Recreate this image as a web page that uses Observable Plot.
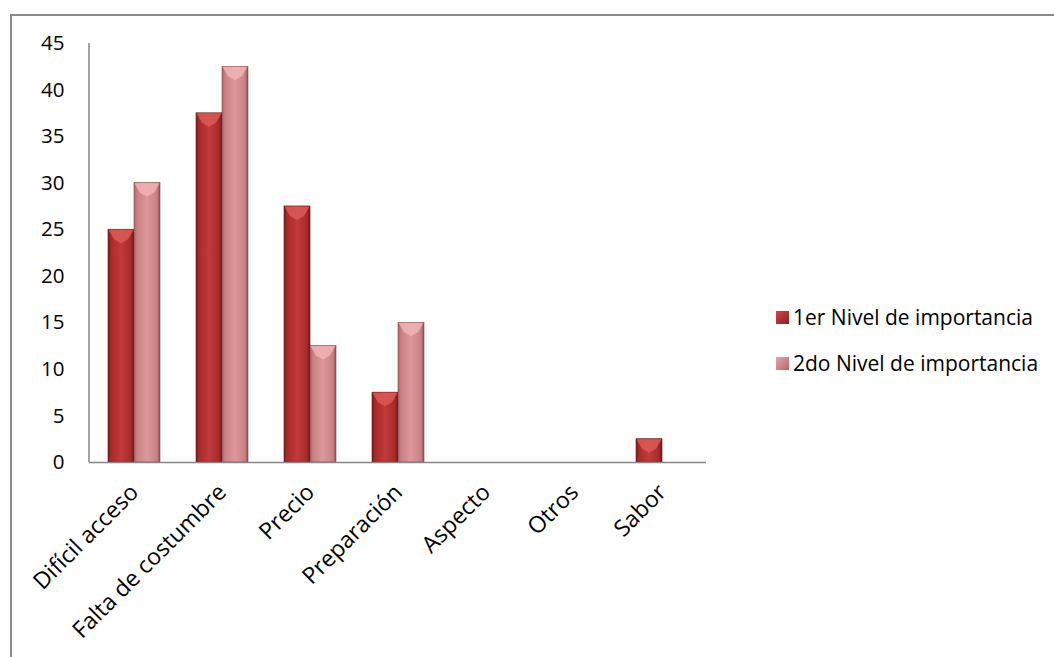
<!DOCTYPE html>
<html>
<head>
<meta charset="utf-8">
<script src="https://cdn.jsdelivr.net/npm/d3@7"></script>
<script src="https://cdn.jsdelivr.net/npm/@observablehq/plot@0.6"></script>
<style>
  html, body { margin: 0; padding: 0; background: #fff; }
  #wrap { position: relative; width: 1054px; height: 657px; overflow: hidden; font-family: "Open Sans", Lato, sans-serif; }
  #frame { position: absolute; left: 10px; top: 14px; width: 1100px; height: 700px;
           border-left: 2px solid #8c8c8c; border-top: 2px solid #8c8c8c; }
  #chart { position: absolute; left: 0; top: 0; }
  #legend { position: absolute; left: 776px; top: 303px; font-size: 21px; color: #000; }
  .item { display: flex; align-items: center; height: 28px; margin-bottom: 18px; }
  .sw { width: 13px; height: 13px; margin-right: 4px; }
</style>
</head>
<body>
<div id="wrap">
  <div id="frame"></div>
  <div id="chart"></div>
  <div id="legend"></div>
</div>
<script>
// Reasons for not consuming the product, by level of importance
const categories = ["Difícil acceso", "Falta de costumbre", "Precio", "Preparación", "Aspecto", "Otros", "Sabor"];
const series = ["1er Nivel de importancia", "2do Nivel de importancia"];
const primero = [25, 37.5, 27.5, 7.5, 0, 0, 2.5];
const segundo = [30, 42.5, 12.5, 15, 0, 0, 0];
const yTicks = [0, 5, 10, 15, 20, 25, 30, 35, 40, 45];

const rows1 = categories.map((c, i) => ({cat: c, value: primero[i]}));
const rows2 = categories.map((c, i) => ({cat: c, value: segundo[i]}));

// gradient + shadow definitions used by the bars
const defs = () => {
  const d = d3.create("svg:defs");
  const g1 = d.append("linearGradient").attr("id", "g1").attr("x1", 0).attr("x2", 1).attr("y1", 0).attr("y2", 0);
  [[0, "#7e1b1b"], [0.12, "#a82a2a"], [0.5, "#c23a3a"], [0.88, "#a82a2a"], [1, "#6e1616"]]
    .forEach(([o, c]) => g1.append("stop").attr("offset", o).attr("stop-color", c));
  const g2 = d.append("linearGradient").attr("id", "g2").attr("x1", 0).attr("x2", 1).attr("y1", 0).attr("y2", 0);
  [[0, "#a8686a"], [0.12, "#c98184"], [0.5, "#dc9799"], [0.88, "#c98184"], [1, "#8f5254"]]
    .forEach(([o, c]) => g2.append("stop").attr("offset", o).attr("stop-color", c));
  const f = d.append("filter").attr("id", "sh").attr("x", "-20%").attr("y", "-5%").attr("width", "150%").attr("height", "115%");
  f.append("feDropShadow").attr("dx", 2).attr("dy", 2).attr("stdDeviation", 2).attr("flood-color", "#000").attr("flood-opacity", 0.25);
  return d.node();
};

// light bevel facet on top of each bar (half = 0 for left bar, 1 for right bar)
const bevel = (rows, half, color) => (index, scales) => {
  const x = scales.x, y = scales.y;
  const bw = (x.bandwidth ? x.bandwidth() : 52) / 2;
  const g = d3.create("svg:g");
  rows.filter(d => d.value > 0).forEach(d => {
    const x0 = x(d.cat) + half * bw, x1 = x0 + bw, yt = y(d.value);
    const depth = Math.min(10, (y(0) - yt) / 2);
    g.append("polygon")
      .attr("points", `${x0 + 0.5},${yt + 0.5} ${x1 - 0.5},${yt + 0.5} ${x1 - 6},${yt + depth} ${(x0 + x1) / 2},${yt + depth + 4} ${x0 + 6},${yt + depth}`)
      .attr("fill", color).attr("opacity", 0.85);
  });
  return g.node();
};

// vertical axis line along the left edge of the plotting area
const leftAxisLine = (index, scales, values, dim) => {
  const y0 = scales.y(0), y1 = scales.y(45);
  return d3.create("svg:line")
    .attr("x1", dim.marginLeft).attr("x2", dim.marginLeft)
    .attr("y1", y0).attr("y2", y1)
    .attr("stroke", "#868686").attr("stroke-width", 1.5).node();
};

const chart = Plot.plot({
  width: 1054,
  height: 657,
  marginLeft: 89,
  marginRight: 348,
  marginTop: 43,
  marginBottom: 195,
  style: {fontFamily: "'Open Sans', Lato, sans-serif", fontSize: "20px", color: "#000", background: "transparent"},
  x: {domain: categories, paddingInner: 0.41, paddingOuter: 0.205, label: null},
  y: {domain: [0, 45], ticks: yTicks, label: null},
  marks: [
    defs,
    // first level: left half of each band
    Plot.barY(rows1, {
      x: "cat", y: "value", insetRight: 26, fill: "url(#g1)", stroke: "#5e1414", strokeWidth: 0.6,
      filter: (d) => d.value > 0, style: {filter: "url(#sh)"}
    }),
    // second level: right half of each band
    Plot.barY(rows2, {
      x: "cat", y: "value", insetLeft: 26, fill: "url(#g2)", stroke: "#7a4446", strokeWidth: 0.6,
      filter: (d) => d.value > 0, style: {filter: "url(#sh)"}
    }),
    bevel(rows1, 0, "#dc5a55"),
    bevel(rows2, 1, "#f0b3b4"),
    Plot.axisY({ticks: yTicks, tickSize: 0, tickPadding: 25, label: null, fontSize: "20.5px"}),
    Plot.axisX({tickSize: 0, tickRotate: -45, tickPadding: 26, label: null, fontSize: "23px"}),
    leftAxisLine,
    Plot.ruleY([0], {stroke: "#868686", strokeWidth: 1.5})
  ]
});
document.getElementById("chart").appendChild(chart);

// legend
const legend = document.getElementById("legend");
const swatches = ["linear-gradient(135deg,#d04848,#8e2020)", "linear-gradient(135deg,#e8a4a6,#b06a6c)"];
series.forEach((s, i) => {
  const it = document.createElement("div");
  it.className = "item";
  it.innerHTML = `<span class="sw" style="background:${swatches[i]}"></span><span>${s}</span>`;
  legend.appendChild(it);
});
</script>
</body>
</html>
